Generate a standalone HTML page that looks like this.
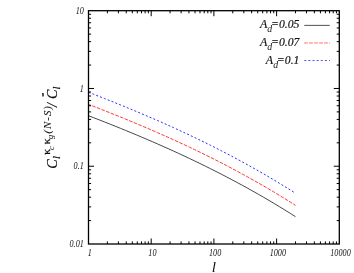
<!DOCTYPE html>
<html><head><meta charset="utf-8"><style>
html,body{margin:0;padding:0;background:#fff;}
svg{display:block;will-change:transform;font-family:"Liberation Serif",serif;font-style:italic;}
</style></head><body>
<svg width="354" height="273" viewBox="0 0 354 273">
<rect width="354" height="273" fill="#fff"/>
<path d="M88.50,115.70 L93.81,117.75 L99.12,119.82 L104.42,121.91 L109.73,124.01 L115.04,126.14 L120.35,128.28 L125.65,130.44 L130.96,132.63 L136.27,134.84 L141.58,137.07 L146.88,139.33 L152.19,141.62 L157.50,143.93 L162.81,146.27 L168.12,148.63 L173.42,151.03 L178.73,153.46 L184.04,155.92 L189.35,158.41 L194.65,160.94 L199.96,163.50 L205.27,166.10 L210.58,168.73 L215.88,171.41 L221.19,174.12 L226.50,176.87 L231.81,179.66 L237.12,182.49 L242.42,185.37 L247.73,188.28 L253.04,191.25 L258.35,194.26 L263.65,197.31 L268.96,200.41 L274.27,203.56 L279.58,206.77 L284.88,210.02 L290.19,213.32 L295.50,216.67" fill="none" stroke="#333" stroke-width="0.9"/>
<path d="M88.50,104.40 L93.81,106.45 L99.12,108.52 L104.42,110.61 L109.73,112.71 L115.04,114.84 L120.35,116.98 L125.65,119.14 L130.96,121.33 L136.27,123.54 L141.58,125.77 L146.88,128.03 L152.19,130.32 L157.50,132.63 L162.81,134.97 L168.12,137.33 L173.42,139.73 L178.73,142.16 L184.04,144.62 L189.35,147.11 L194.65,149.64 L199.96,152.20 L205.27,154.80 L210.58,157.43 L215.88,160.11 L221.19,162.82 L226.50,165.57 L231.81,168.36 L237.12,171.19 L242.42,174.07 L247.73,176.98 L253.04,179.95 L258.35,182.96 L263.65,186.01 L268.96,189.11 L274.27,192.26 L279.58,195.47 L284.88,198.72 L290.19,202.02 L295.50,205.37" fill="none" stroke="#f22" stroke-width="0.9" stroke-dasharray="3.6 1.38" stroke-dashoffset="1"/>
<path d="M88.50,92.30 L93.81,94.35 L99.12,96.42 L104.42,98.51 L109.73,100.61 L115.04,102.74 L120.35,104.88 L125.65,107.04 L130.96,109.23 L136.27,111.44 L141.58,113.67 L146.88,115.93 L152.19,118.22 L157.50,120.53 L162.81,122.87 L168.12,125.23 L173.42,127.63 L178.73,130.06 L184.04,132.52 L189.35,135.01 L194.65,137.54 L199.96,140.10 L205.27,142.70 L210.58,145.33 L215.88,148.01 L221.19,150.72 L226.50,153.47 L231.81,156.26 L237.12,159.09 L242.42,161.97 L247.73,164.88 L253.04,167.85 L258.35,170.86 L263.65,173.91 L268.96,177.01 L274.27,180.16 L279.58,183.37 L284.88,186.62 L290.19,189.92 L295.50,193.27" fill="none" stroke="#22f" stroke-width="0.95" stroke-dasharray="2 2.12"/>
<path d="M304.3,25.38H329.8" stroke="#333" stroke-width="0.85"/>
<path d="M304.1,42.95H329.9" stroke="#f22" stroke-width="0.65" stroke-dasharray="3.8 1.2"/>
<path d="M304.3,60.5H329.9" stroke="#22f" stroke-width="0.8" stroke-dasharray="2 2.12"/>
<rect x="88.5" y="10.7" width="250.8" height="233.3" fill="none" stroke="#000" stroke-width="1.3"/>
<path d="M107.37,244.0 v-2.6 M107.37,10.7 v2.6 M118.42,244.0 v-2.6 M118.42,10.7 v2.6 M126.25,244.0 v-2.6 M126.25,10.7 v2.6 M132.33,244.0 v-2.6 M132.33,10.7 v2.6 M137.29,244.0 v-2.6 M137.29,10.7 v2.6 M141.49,244.0 v-2.6 M141.49,10.7 v2.6 M145.12,244.0 v-2.6 M145.12,10.7 v2.6 M148.33,244.0 v-2.6 M148.33,10.7 v2.6 M151.20,244.0 v-5.5 M151.20,10.7 v5.5 M170.07,244.0 v-2.6 M170.07,10.7 v2.6 M181.12,244.0 v-2.6 M181.12,10.7 v2.6 M188.95,244.0 v-2.6 M188.95,10.7 v2.6 M195.03,244.0 v-2.6 M195.03,10.7 v2.6 M199.99,244.0 v-2.6 M199.99,10.7 v2.6 M204.19,244.0 v-2.6 M204.19,10.7 v2.6 M207.82,244.0 v-2.6 M207.82,10.7 v2.6 M211.03,244.0 v-2.6 M211.03,10.7 v2.6 M213.90,244.0 v-5.5 M213.90,10.7 v5.5 M232.77,244.0 v-2.6 M232.77,10.7 v2.6 M243.82,244.0 v-2.6 M243.82,10.7 v2.6 M251.65,244.0 v-2.6 M251.65,10.7 v2.6 M257.73,244.0 v-2.6 M257.73,10.7 v2.6 M262.69,244.0 v-2.6 M262.69,10.7 v2.6 M266.89,244.0 v-2.6 M266.89,10.7 v2.6 M270.52,244.0 v-2.6 M270.52,10.7 v2.6 M273.73,244.0 v-2.6 M273.73,10.7 v2.6 M276.60,244.0 v-5.5 M276.60,10.7 v5.5 M295.47,244.0 v-2.6 M295.47,10.7 v2.6 M306.52,244.0 v-2.6 M306.52,10.7 v2.6 M314.35,244.0 v-2.6 M314.35,10.7 v2.6 M320.43,244.0 v-2.6 M320.43,10.7 v2.6 M325.39,244.0 v-2.6 M325.39,10.7 v2.6 M329.59,244.0 v-2.6 M329.59,10.7 v2.6 M333.22,244.0 v-2.6 M333.22,10.7 v2.6 M336.43,244.0 v-2.6 M336.43,10.7 v2.6 M88.5,220.59 h2.6 M339.3,220.59 h-2.6 M88.5,206.90 h2.6 M339.3,206.90 h-2.6 M88.5,197.18 h2.6 M339.3,197.18 h-2.6 M88.5,189.64 h2.6 M339.3,189.64 h-2.6 M88.5,183.49 h2.6 M339.3,183.49 h-2.6 M88.5,178.28 h2.6 M339.3,178.28 h-2.6 M88.5,173.77 h2.6 M339.3,173.77 h-2.6 M88.5,169.79 h2.6 M339.3,169.79 h-2.6 M88.5,166.23 h5.5 M339.3,166.23 h-5.5 M88.5,142.82 h2.6 M339.3,142.82 h-2.6 M88.5,129.13 h2.6 M339.3,129.13 h-2.6 M88.5,119.41 h2.6 M339.3,119.41 h-2.6 M88.5,111.88 h2.6 M339.3,111.88 h-2.6 M88.5,105.72 h2.6 M339.3,105.72 h-2.6 M88.5,100.51 h2.6 M339.3,100.51 h-2.6 M88.5,96.00 h2.6 M339.3,96.00 h-2.6 M88.5,92.03 h2.6 M339.3,92.03 h-2.6 M88.5,88.47 h5.5 M339.3,88.47 h-5.5 M88.5,65.06 h2.6 M339.3,65.06 h-2.6 M88.5,51.36 h2.6 M339.3,51.36 h-2.6 M88.5,41.65 h2.6 M339.3,41.65 h-2.6 M88.5,34.11 h2.6 M339.3,34.11 h-2.6 M88.5,27.95 h2.6 M339.3,27.95 h-2.6 M88.5,22.75 h2.6 M339.3,22.75 h-2.6 M88.5,18.24 h2.6 M339.3,18.24 h-2.6 M88.5,14.26 h2.6 M339.3,14.26 h-2.6" fill="none" stroke="#000" stroke-width="1.0"/>
<g fill="#111" stroke="#111" stroke-width="0.18">
<text transform="translate(89.70,256.1) scale(0.88,1)" text-anchor="middle" font-size="9.3" stroke="none">1</text>
<text transform="translate(152.40,256.1) scale(0.88,1)" text-anchor="middle" font-size="9.3" stroke="none">10</text>
<text transform="translate(215.10,256.1) scale(0.88,1)" text-anchor="middle" font-size="9.3" stroke="none">100</text>
<text transform="translate(277.80,256.1) scale(0.88,1)" text-anchor="middle" font-size="9.3" stroke="none">1000</text>
<text transform="translate(340.50,256.1) scale(0.88,1)" text-anchor="middle" font-size="9.3" stroke="none">10000</text>
<text transform="translate(83.8,247.20) scale(0.88,1)" text-anchor="end" font-size="9.3" stroke="none">0.01</text>
<text transform="translate(83.8,169.43) scale(0.88,1)" text-anchor="end" font-size="9.3" stroke="none">0.1</text>
<text transform="translate(83.8,91.67) scale(0.88,1)" text-anchor="end" font-size="9.3" stroke="none">1</text>
<text transform="translate(83.8,13.90) scale(0.88,1)" text-anchor="end" font-size="9.3" stroke="none">10</text>
<text x="260" y="28.2" font-size="12">A</text><text x="267.30" y="32.20" font-size="9.8" stroke="none">d</text><text x="271.00" y="28.20" font-size="11.7">=</text><text x="299.4" y="28.2" font-size="11.7" text-anchor="end">0.05</text>
<text x="260" y="46.2" font-size="12">A</text><text x="267.30" y="50.20" font-size="9.8" stroke="none">d</text><text x="271.00" y="46.20" font-size="11.7">=</text><text x="299.4" y="46.2" font-size="11.7" text-anchor="end">0.07</text>
<text x="265.85" y="63.9" font-size="12">A</text><text x="273.15" y="67.90" font-size="9.8" stroke="none">d</text><text x="276.85" y="63.90" font-size="11.7">=</text><text x="299.4" y="63.9" font-size="11.7" text-anchor="end">0.1</text>
<text x="211.8" y="271.7" font-size="15.2" stroke="none">l</text>
<g transform="translate(56.8,168.4) rotate(-90)">
<text x="-0.4" y="0" font-size="14.2">C</text>
<text x="9.3" y="3.5" font-size="10.4">l</text>
<text x="13.6" y="-7.1" font-size="11.4" font-style="normal" stroke="#111" stroke-width="0.32">κ</text>
<text x="18.4" y="-3.0" font-size="8.6" stroke="none">c</text>
<text x="24.2" y="-7.1" font-size="11.4" font-style="normal" stroke="#111" stroke-width="0.32">κ</text>
<text x="29.5" y="-3.4" font-size="8.6" stroke="none">g</text>
<text x="34.9" y="-6.3" font-size="10.8" letter-spacing="1.0" stroke-width="0.08">(N-S)</text>
<text x="61.3" y="0" font-size="14">/</text>
<text x="69.4" y="0" font-size="14.2">C</text>
<text x="78.9" y="3.6" font-size="10.4">l</text>
<rect x="72" y="-14.4" width="3.1" height="1.3" fill="#111"/>
</g>
</g>
</svg>
</body></html>
